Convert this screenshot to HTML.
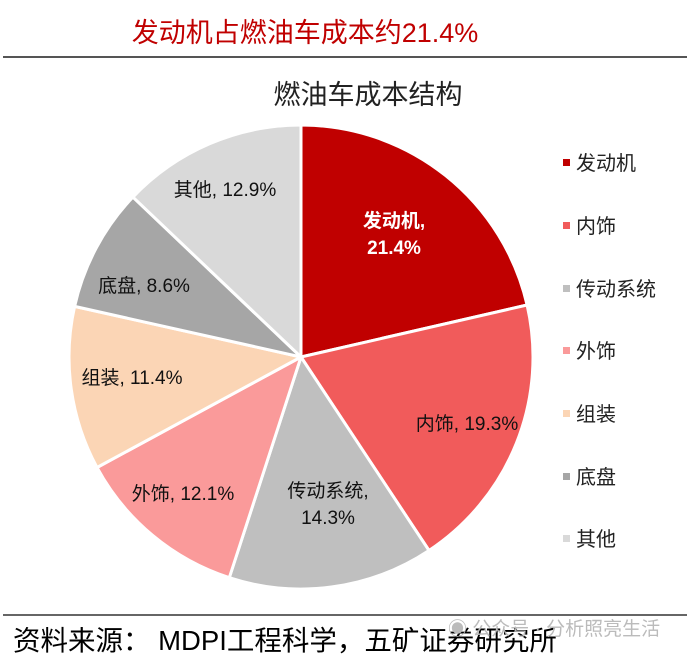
<!DOCTYPE html>
<html><head><meta charset="utf-8"><style>
body{margin:0;background:#fff;width:687px;height:655px;overflow:hidden;position:relative;font-family:"Liberation Sans","Noto Sans CJK SC",sans-serif}
</style></head><body>
<svg width="687" height="655" style="position:absolute;left:0;top:0" font-family="Liberation Sans, Noto Sans CJK SC, sans-serif">
<text x="305" y="42" font-size="27" fill="#C00000" text-anchor="middle">发动机占燃油车成本约21.4%</text>
<line x1="3" y1="57" x2="687" y2="57" stroke="#555" stroke-width="2"/>
<text x="368" y="104" font-size="27" fill="#222" text-anchor="middle">燃油车成本结构</text>
<g stroke="#fff" stroke-width="3" stroke-linejoin="round">
<path d="M301,357 L301,125 A232,232 0 0 1 527.1,305 Z" fill="#C00000"/>
<path d="M301,357 L527.1,305 A232,232 0 0 1 429,550.5 Z" fill="#F15B5B"/>
<path d="M301,357 L429,550.5 A232,232 0 0 1 229.3,577.7 Z" fill="#BFBFBF"/>
<path d="M301,357 L229.3,577.7 A232,232 0 0 1 97,467.5 Z" fill="#FA9A9A"/>
<path d="M301,357 L97,467.5 A232,232 0 0 1 74.6,306.4 Z" fill="#FBD5B5"/>
<path d="M301,357 L74.6,306.4 A232,232 0 0 1 132.9,197.1 Z" fill="#A6A6A6"/>
<path d="M301,357 L132.9,197.1 A232,232 0 0 1 301,125 Z" fill="#D9D9D9"/>
</g>
<g font-size="19" fill="#111" text-anchor="middle">
<text x="394" y="227" fill="#fff" font-weight="bold">发动机,</text>
<text x="394" y="254" fill="#fff" font-weight="bold">21.4%</text>
<text x="467" y="430">内饰, 19.3%</text>
<text x="328" y="497">传动系统,</text>
<text x="328" y="524">14.3%</text>
<text x="183" y="500">外饰, 12.1%</text>
<text x="132" y="384">组装, 11.4%</text>
<text x="144" y="292">底盘, 8.6%</text>
<text x="225" y="196">其他, 12.9%</text>
</g>
<g font-size="20" fill="#222">
<rect x="563" y="159" width="7" height="7" fill="#C00000"/><text x="576" y="170">发动机</text>
<rect x="563" y="222" width="7" height="7" fill="#F15B5B"/><text x="576" y="233">内饰</text>
<rect x="563" y="285" width="7" height="7" fill="#BFBFBF"/><text x="576" y="296">传动系统</text>
<rect x="563" y="347" width="7" height="7" fill="#FA9A9A"/><text x="576" y="358">外饰</text>
<rect x="563" y="410" width="7" height="7" fill="#FBD5B5"/><text x="576" y="421">组装</text>
<rect x="563" y="473" width="7" height="7" fill="#A6A6A6"/><text x="576" y="484">底盘</text>
<rect x="563" y="535" width="7" height="7" fill="#D9D9D9"/><text x="576" y="546">其他</text>
</g>
<line x1="3" y1="615" x2="687" y2="615" stroke="#333" stroke-width="1.5"/>
<text x="13" y="650" font-size="27.5" fill="#000">资料来源： MDPI工程科学，五矿证券研究所</text>
<text x="448" y="635" font-size="19" fill="#bbb">◉ 公众号 · 分析照亮生活</text>
</svg>
</body></html>
